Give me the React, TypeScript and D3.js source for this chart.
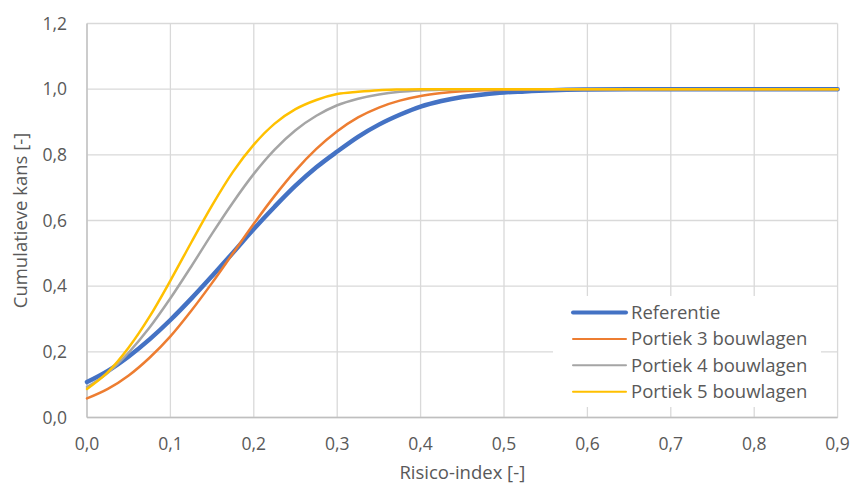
import React from "react";
import * as d3 from "d3";

const xValues = [0, 0.025, 0.05, 0.075, 0.1, 0.125, 0.15, 0.175, 0.2, 0.225, 0.25, 0.275, 0.3, 0.325, 0.35, 0.375, 0.4, 0.425, 0.45, 0.475, 0.5, 0.525, 0.55, 0.575, 0.6, 0.65, 0.7, 0.8, 0.9];

const referentie = [0.108, 0.142, 0.186, 0.238, 0.297, 0.362, 0.431, 0.502, 0.574, 0.642, 0.706, 0.762, 0.81, 0.855, 0.892, 0.922, 0.947, 0.964, 0.976, 0.984, 0.99, 0.993, 0.996, 0.998, 0.999, 1.0, 1.0, 1.0, 1.0];
const portiek3 = [0.058, 0.087, 0.128, 0.182, 0.247, 0.325, 0.41, 0.5, 0.59, 0.675, 0.752, 0.818, 0.872, 0.914, 0.944, 0.965, 0.979, 0.988, 0.994, 0.997, 0.998, 0.999, 1.0, 1.0, 1.0, 1.0, 1.0, 1.0, 1.0];
const portiek4 = [0.093, 0.136, 0.198, 0.274, 0.363, 0.46, 0.56, 0.655, 0.742, 0.816, 0.875, 0.919, 0.951, 0.971, 0.984, 0.992, 0.996, 0.998, 0.999, 1.0, 1.0, 1.0, 1.0, 1.0, 1.0, 1.0, 1.0, 1.0, 1.0];
const portiek5 = [0.087, 0.138, 0.213, 0.307, 0.417, 0.533, 0.646, 0.748, 0.831, 0.895, 0.939, 0.967, 0.985, 0.992, 0.997, 0.999, 1.0, 1.0, 1.0, 1.0, 1.0, 1.0, 1.0, 1.0, 1.0, 1.0, 1.0, 1.0, 1.0];

const seriesNames = ["Referentie", "Portiek 3 bouwlagen", "Portiek 4 bouwlagen", "Portiek 5 bouwlagen"];
const seriesColors = ["#4472C4", "#ED7D31", "#A5A5A5", "#FFC000"];
const seriesWidths = [4.5, 2.5, 2.5, 2.5];
const seriesData = [referentie, portiek3, portiek4, portiek5];

const xTicks = [0, 0.1, 0.2, 0.3, 0.4, 0.5, 0.6, 0.7, 0.8, 0.9];
const yTicks = [0, 0.2, 0.4, 0.6, 0.8, 1.0, 1.2];

const xTitle = "Risico-index [-]";
const yTitle = "Cumulatieve kans [-]";

const W = 852;
const H = 486;
const FONT = "'Open Sans', sans-serif";
const TEXT = "#595959";
const FS = 18.5;

export default function App() {
  const x = d3.scaleLinear().domain([0, 0.9]).range([87, 837.6]);
  const y = d3.scaleLinear().domain([0, 1.2]).range([417.5, 23.5]);
  const fmt = (v: number) => v.toFixed(1).replace(".", ",");
  const line = d3
    .line<[number, number]>()
    .x((d) => x(d[0]))
    .y((d) => y(d[1]))
    .curve(d3.curveMonotoneX);

  const legendX = 573;
  const legendY0 = 312.5;
  const legendDy = 26.4;

  return (
    <svg width={W} height={H} style={{ position: "absolute", left: 0, top: 0, background: "#fff" }} fontFamily={FONT}>
      <rect x={0} y={0} width={W} height={H} fill="#fff" />
      {yTicks.map((t) => (
        <line key={"gy" + t} x1={x(0)} x2={x(0.9)} y1={y(t)} y2={y(t)} stroke="#d9d9d9" strokeWidth={1.3} />
      ))}
      {xTicks.map((t) => (
        <line key={"gx" + t} x1={x(t)} x2={x(t)} y1={y(0)} y2={y(1.2)} stroke="#d9d9d9" strokeWidth={1.3} />
      ))}
      <line x1={x(0)} x2={x(0)} y1={y(0)} y2={y(1.2)} stroke="#bfbfbf" strokeWidth={1.3} />
      <line x1={x(0)} x2={x(0.9)} y1={y(0)} y2={y(0)} stroke="#bfbfbf" strokeWidth={1.3} />
      {yTicks.map((t) => (
        <text key={"ty" + t} x={67} y={y(t)} dy="0.35em" textAnchor="end" fontSize={17.5} fill={TEXT}>
          {fmt(t)}
        </text>
      ))}
      {xTicks.map((t) => (
        <text key={"tx" + t} x={x(t)} y={450} textAnchor="middle" fontSize={17.5} fill={TEXT}>
          {fmt(t)}
        </text>
      ))}
      <text x={(x(0) + x(0.9)) / 2} y={479} textAnchor="middle" fontSize={FS} fill={TEXT}>
        {xTitle}
      </text>
      <text
        transform={`translate(27,${(y(0) + y(1.2)) / 2}) rotate(-90)`}
        textAnchor="middle"
        fontSize={FS}
        fill={TEXT}
      >
        {yTitle}
      </text>
      {seriesData.map((vals, i) => (
        <path
          key={seriesNames[i]}
          d={line(xValues.map((xv, j) => [xv, vals[j]] as [number, number])) || ""}
          fill="none"
          stroke={seriesColors[i]}
          strokeWidth={seriesWidths[i]}
          strokeLinejoin="round"
          strokeLinecap="round"
        />
      ))}
      <rect x={553} y={296} width={268} height={111} fill="#fff" />
      {seriesNames.map((n, i) => (
        <g key={"lg" + n}>
          <line
            x1={legendX}
            x2={legendX + 53}
            y1={legendY0 + i * legendDy}
            y2={legendY0 + i * legendDy}
            stroke={seriesColors[i]}
            strokeWidth={seriesWidths[i] - 0.5}
            strokeLinecap="round"
          />
          <text x={631} y={legendY0 + i * legendDy} dy="0.35em" fontSize={FS} fill={TEXT}>
            {n}
          </text>
        </g>
      ))}
    </svg>
  );
}
